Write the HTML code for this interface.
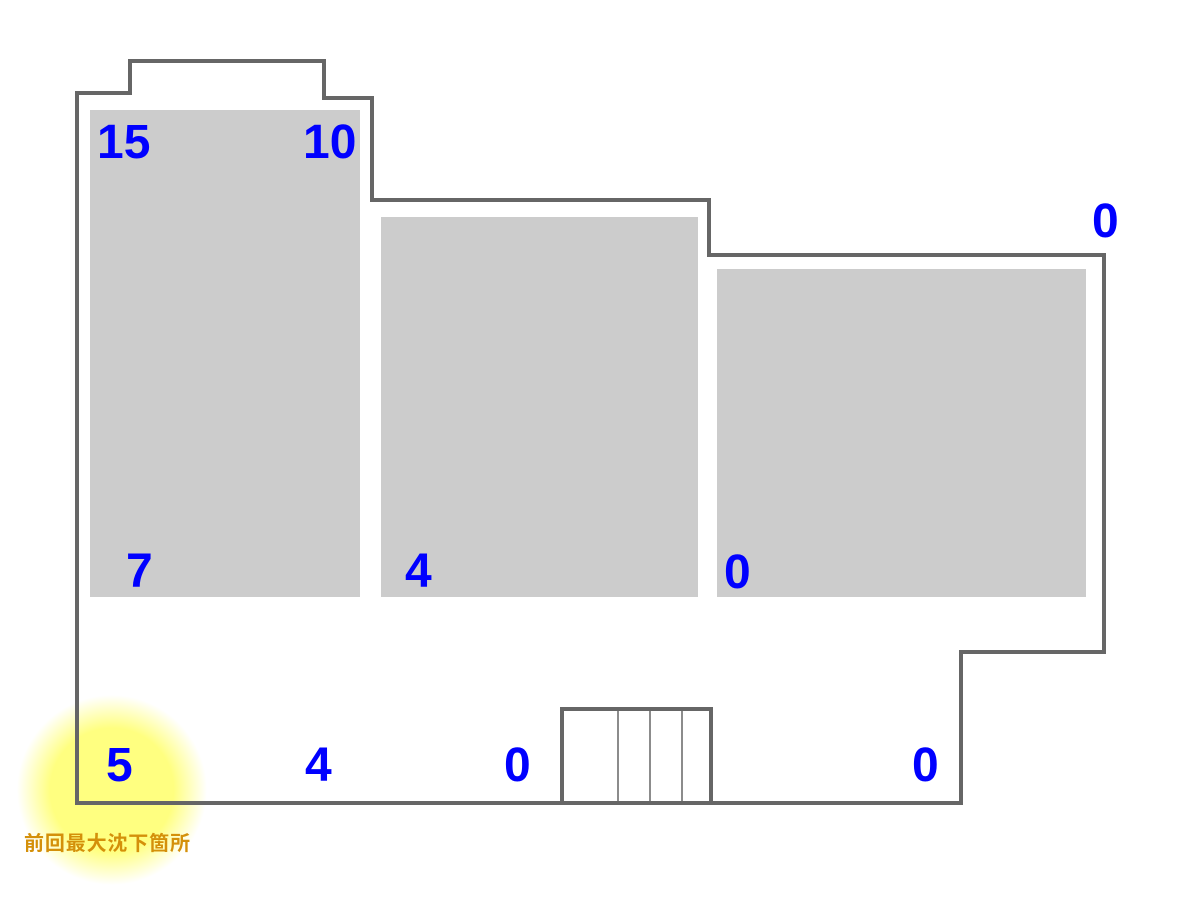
<!DOCTYPE html>
<html><head><meta charset="utf-8"><style>html,body{margin:0;padding:0;background:#fff}svg{display:block}</style></head>
<body>
<svg width="1200" height="900" viewBox="0 0 1200 900" xmlns="http://www.w3.org/2000/svg">
<defs>
<radialGradient id="g" cx="112" cy="790" r="95" gradientUnits="userSpaceOnUse">
<stop offset="0" stop-color="#ffff80"/>
<stop offset="0.65" stop-color="#ffff80"/>
<stop offset="1" stop-color="#ffff80" stop-opacity="0"/>
</radialGradient>
</defs>
<circle cx="112" cy="790" r="95" fill="url(#g)"/>
<rect x="90" y="110" width="270" height="487" fill="#cccccc"/>
<rect x="381" y="217" width="317" height="380" fill="#cccccc"/>
<rect x="717" y="269" width="369" height="328" fill="#cccccc"/>
<path d="M77 93 H130 V61 H324 V98 H372 V200 H709 V255 H1104 V652 H961 V803 H77 Z" fill="none" stroke="#666" stroke-width="4"/>
<rect x="562" y="709" width="149" height="94" fill="none" stroke="#666" stroke-width="4"/>
<g stroke="#666" stroke-width="1.5"><line x1="618" y1="709" x2="618" y2="803"/><line x1="650" y1="709" x2="650" y2="803"/><line x1="682" y1="709" x2="682" y2="803"/></g>
<g font-family="Liberation Sans, sans-serif" font-weight="bold" font-size="48" fill="#0000ff">
<text x="97" y="158">15</text>
<text x="303" y="158">10</text>
<text x="1092" y="237">0</text>
<text x="126" y="587">7</text>
<text x="405" y="587">4</text>
<text x="724" y="588">0</text>
<text x="106" y="781">5</text>
<text x="305" y="781">4</text>
<text x="504" y="781">0</text>
<text x="912" y="781">0</text>
</g>
<text x="24" y="850" font-family="Liberation Sans, Noto Sans CJK JP, sans-serif" font-weight="bold" font-size="20" fill="#d4900a" textLength="166">前回最大沈下箇所</text>
</svg>
</body></html>
